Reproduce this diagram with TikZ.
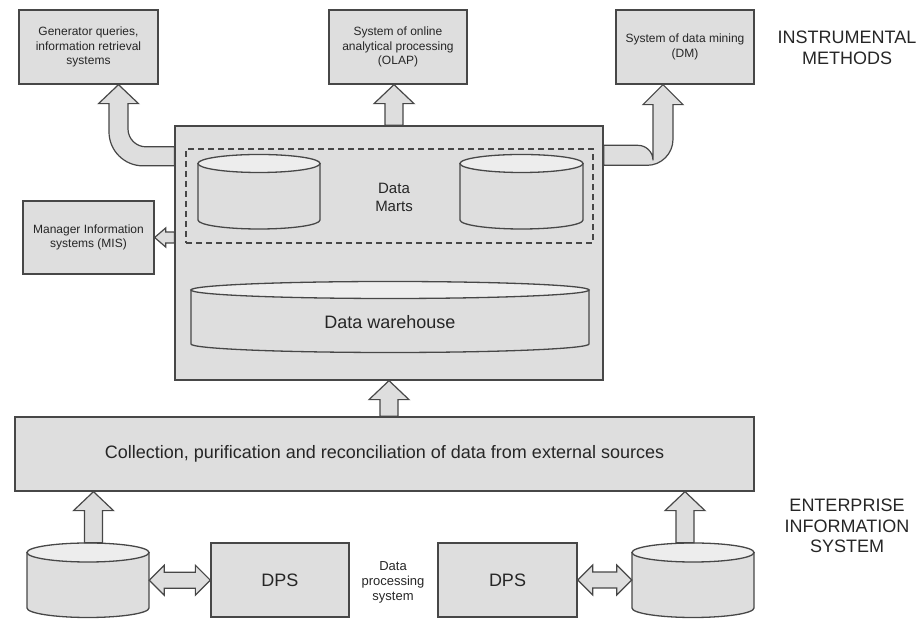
\documentclass[tikz,border=0pt]{standalone}
\usepackage{fontspec}
\setmainfont{Liberation Sans}
\usetikzlibrary{calc}

\definecolor{linec}{HTML}{474747}
\definecolor{boxc}{HTML}{DEDEDE}
\definecolor{topc}{HTML}{EDEDED}
\definecolor{textc}{HTML}{262626}

\tikzset{
  box/.style={draw=linec, fill=boxc, line width=1.3pt, inner sep=2pt,
    align=center, text=textc},
  smalltext/.style={font=\fontsize{12}{14.5}\selectfont},
  bigtext/.style={font=\fontsize{18}{21}\selectfont},
  blk/.style={draw=linec, fill=boxc, line width=1.2pt, line join=miter},
  cylbody/.style={draw=linec, fill=boxc, line width=1.3pt},
  cyltop/.style={draw=linec, fill=topc, line width=1.3pt},
  martsbox/.style={draw=linec, line width=1.4pt, dash pattern=on 6pt off 4pt},
  plain/.style={align=center, text=textc, inner sep=0pt},
}

% database cylinder: name, centre x, top-ellipse y, bottom-ellipse y, x radius, y radius
\newcommand{\dbcyl}[6]{%
  \path[cylbody] (#2-#5,#3) -- (#2-#5,#4)
    arc[start angle=180, end angle=360, x radius=#5pt, y radius=#6pt]
    -- (#2+#5,#3) -- cycle;
  \path[cyltop] (#2,#3) ellipse [x radius=#5pt, y radius=#6pt];
  \node[inner sep=0pt, minimum width=2*#5, minimum height=#3-#4+2*#6]
    (#1) at (#2,{(#3+#4)/2}) {};
}

% vertical block arrow from #1 up to the height of #2
\newcommand{\uparrowblk}[2]{%
  \path[blk] let \p1=#1, \p2=#2 in
    (\x1-9pt,\y1) -- (\x1-9pt,\y2-19pt) -- (\x1-20pt,\y2-19pt) -- (\x1,\y2)
    -- (\x1+20pt,\y2-19pt) -- (\x1+9pt,\y2-19pt) -- (\x1+9pt,\y1) -- cycle;
}

% horizontal two-headed block arrow between #1 and #2
\newcommand{\twowayblk}[2]{%
  \path[blk] let \p1=#1, \p2=#2 in
    (\x1,\y1) -- (\x1+15pt,\y1+15pt) -- (\x1+15pt,\y1+8pt) -- (\x2-15pt,\y1+8pt)
    -- (\x2-15pt,\y1+15pt) -- (\x2,\y1) -- (\x2-15pt,\y1-15pt) -- (\x2-15pt,\y1-8pt)
    -- (\x1+15pt,\y1-8pt) -- (\x1+15pt,\y1-15pt) -- cycle;
}

\begin{document}
\begin{tikzpicture}[x=1pt, y=1pt]
\useasboundingbox (0,0) rectangle (921,636);

% ---- instrumental methods ----
\node[box, smalltext, minimum width=139pt, minimum height=74pt] (gen) at (88.5,589)
  {Generator queries,\\information retrieval\\systems};
\node[box, smalltext, minimum width=138pt, minimum height=74pt] (olap) at (398,589)
  {System of online\\analytical processing\\(OLAP)};
\node[box, smalltext, minimum width=138pt, minimum height=74pt] (dm) at (685,589)
  {System of data mining\\(DM)};
\node[plain, bigtext] (instr) at (847,588.5) {INSTRUMENTAL\\METHODS};

% ---- storage block ----
\node[box, minimum width=428pt, minimum height=254pt] (main) at (389,383) {};
\node[martsbox, minimum width=407pt, minimum height=94pt, inner sep=0pt] (marts) at (389.5,440) {};
\dbcyl{dmA}{259}{472.5}{416}{61}{9}
\dbcyl{dmB}{521.5}{472.5}{416}{61.5}{9}
\node[plain, font=\fontsize{15}{18}\selectfont] (martslbl) at (394,439) {Data\\Marts};
\dbcyl{dw}{390}{346}{292}{199}{8.5}
\node[plain, bigtext] (dwlbl) at (390,314) {Data warehouse};

\node[box, smalltext, minimum width=131pt, minimum height=73pt] (mis) at (88.5,398.5)
  {Manager Information\\systems (MIS)};

% ---- collection layer ----
\node[box, bigtext, minimum width=739pt, minimum height=74pt] (coll) at (384.5,182)
  {Collection, purification and reconciliation of data from external sources};

% ---- enterprise information system ----
\dbcyl{dbA}{88}{83.5}{28}{61}{9.5}
\dbcyl{dbB}{693}{83.5}{28}{61}{9.5}
\node[box, bigtext, minimum width=138pt, minimum height=74pt] (dpsA) at (280,56) {DPS};
\node[box, bigtext, minimum width=139pt, minimum height=74pt] (dpsB) at (507.5,56) {DPS};
\node[plain, font=\fontsize{13}{15}\selectfont] (dpslbl) at (393,54)
  {Data\\processing\\system};
\node[plain, font=\fontsize{18}{20.5}\selectfont] (eis) at (847,110)
  {ENTERPRISE\\INFORMATION\\SYSTEM};

% ---- block arrows ----
\uparrowblk{([xshift=5pt]main.north)}{(olap.south)}
\uparrowblk{(coll.north -| main.south)}{(main.south)}
\uparrowblk{([xshift=5.5pt]dbA.north)}{(coll.south)}
\uparrowblk{([xshift=-8pt]dbB.north)}{(coll.south)}

\twowayblk{(dbA.east)}{(dpsA.west)}
\twowayblk{(dpsB.east)}{(dbB.west)}

% main block to MIS
\path[blk] let \p1=(main.west |- mis.east), \p2=(mis.east) in
  (\x1,\y1+5.5pt) -- (\x2+11pt,\y1+5.5pt) -- (\x2+11pt,\y1+9.5pt) -- (\x2,\y1)
  -- (\x2+11pt,\y1-9.5pt) -- (\x2+11pt,\y1-5.5pt) -- (\x1,\y1-5.5pt) -- cycle;

% bent arrow to the query generators
\coordinate (qout) at ([yshift=-31pt]main.north west);
\coordinate (qin) at ([xshift=30pt]gen.south);
\path[blk] let \p1=(qout), \p2=(qin) in
  (\x1,\y1-9.5pt) -- (\x2-9.5pt+34pt,\y1-9.5pt)
  arc[start angle=270, end angle=180, radius=34pt]
  -- (\x2-9.5pt,\y2-19pt) -- (\x2-20pt,\y2-19pt) -- (\x2,\y2)
  -- (\x2+20pt,\y2-19pt) -- (\x2+9.5pt,\y2-19pt) -- (\x2+9.5pt,\y1+27.5pt)
  arc[start angle=180, end angle=270, radius=18pt]
  -- (\x1,\y1+9.5pt) -- cycle;

% bent arrow to data mining
\coordinate (dout) at ([yshift=-30pt]main.north east);
\coordinate (din) at ([xshift=-22pt]dm.south);
\path[blk] let \p1=(dout), \p2=(din) in
  (\x1,\y1+10pt) -- (\x2-25pt,\y1+10pt)
  arc[start angle=90, end angle=0, radius=15pt]
  -- (\x2-10pt,\y2-20pt) -- (\x2-20pt,\y2-20pt) -- (\x2,\y2)
  -- (\x2+20pt,\y2-20pt) -- (\x2+10pt,\y2-20pt) -- (\x2+10pt,\y1+16pt)
  arc[start angle=0, end angle=-90, radius=26pt]
  -- (\x1,\y1-10pt) -- cycle;

\end{tikzpicture}
\end{document}
